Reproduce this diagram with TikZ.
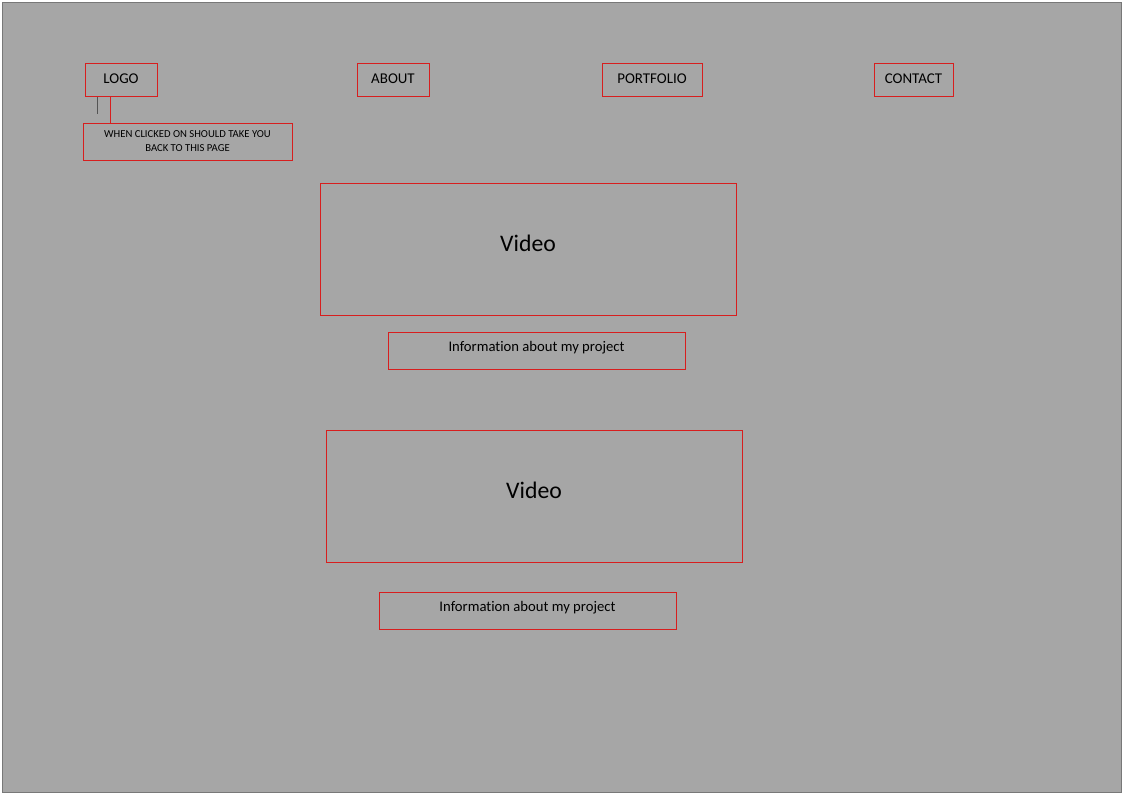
\documentclass[tikz,border=0pt]{standalone}
\usepackage{fontspec}
\setmainfont[Ligatures=NoCommon]{Carlito}
\definecolor{pagegray}{RGB}{166,166,166}
\definecolor{framegray}{RGB}{120,120,120}
\definecolor{boxred}{RGB}{215,30,30}
\tikzset{
  wirebox/.style={draw=boxred, line width=0.75pt, inner sep=0pt, fill=none},
  navbox/.style={wirebox, minimum height=24.75pt, font=\fontsize{11.2}{13}\selectfont, text height=8pt, text depth=2pt},
  infobox/.style={wirebox, minimum width=222.75pt, minimum height=27.75pt, font=\fontsize{11}{13}\selectfont, text height=8pt, text depth=6pt},
  videobox/.style={wirebox, minimum width=312pt, minimum height=99pt, font=\fontsize{17.8}{20}\selectfont, text height=13pt, text depth=10pt}
}
\begin{document}
\begin{tikzpicture}[x=0.75pt,y=0.75pt,yscale=-1,xscale=1]
\useasboundingbox (0,0) rectangle (1122,796);
%page background
\fill[white] (0,0) rectangle (1122,796);
\draw[fill=pagegray, draw=framegray, line width=0.75pt] (2,2) rectangle (1121,792);

%menu bar
\node[navbox, minimum width=54pt] (logo) at (121,79.5) {LOGO};
\node[navbox, minimum width=54pt] (about) at (393,79.5) {ABOUT};
\node[navbox, minimum width=75pt] (portfolio) at (652,79.5) {PORTFOLIO};
\node[navbox, minimum width=59.25pt] (contact) at (913.5,79.5) {CONTACT};

%note under the logo
\node[wirebox, minimum width=156.75pt, minimum height=27.75pt, align=center,
  font=\fontsize{8}{10.5}\selectfont] (note) at (187.5,141.5)
  {WHEN CLICKED ON SHOULD TAKE YOU\\BACK TO THIS PAGE};
\coordinate (tap) at (110,96);
\draw[boxred, line width=0.75pt] (tap) -- (tap |- note.north);
\coordinate (stub) at (97,97);
\draw[framegray!70!black, line width=0.6pt] (stub) -- ++(0,17);

%content
\node[videobox] (video1) at (528,249) {Video};
\node[infobox] (info1) at (536.5,350.5) {Information about my project};
\node[videobox] (video2) at (534,496) {Video};
\node[infobox] (info2) at (527.5,610.5) {Information about my project};

\end{tikzpicture}
\end{document}
